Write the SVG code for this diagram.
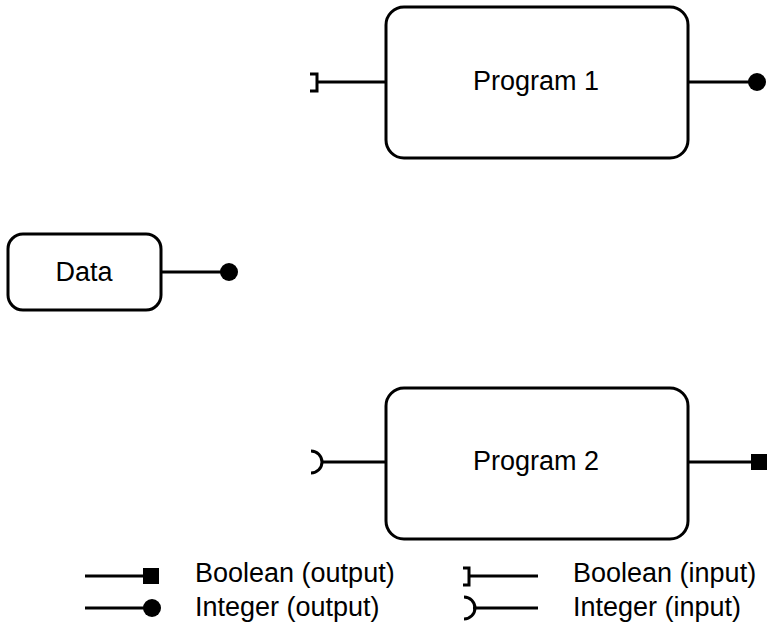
<svg xmlns="http://www.w3.org/2000/svg" width="768" height="626" viewBox="0 0 768 626">
  <defs>
    <style>
      .box { fill: #fff; stroke: #000; stroke-width: 3; }
      .wire { fill: none; stroke: #000; stroke-width: 3; }
      .port { fill: #000; stroke: none; }
      .label { font-family: "Liberation Sans", Arial, sans-serif; font-size: 27px; fill: #000; }
      .mid { text-anchor: middle; }
    </style>
  </defs>
  <rect width="768" height="626" fill="#fff"/>

  <g id="connectors">
    <!-- Program 1: boolean input, integer output -->
    <line class="wire" x1="317" y1="82" x2="386" y2="82"/>
    <path class="wire" d="M310 74 H317 V91 H310"/>
    <line class="wire" x1="688" y1="82" x2="752" y2="82"/>
    <circle class="port" cx="757" cy="82" r="9"/>
    <!-- Data: integer output -->
    <line class="wire" x1="161" y1="272" x2="224" y2="272"/>
    <circle class="port" cx="229" cy="272" r="9"/>
    <!-- Program 2: integer input, boolean output -->
    <line class="wire" x1="321" y1="462" x2="386" y2="462"/>
    <path class="wire" d="M311 451 A11 11 0 0 1 311 473"/>
    <line class="wire" x1="688" y1="462" x2="752" y2="462"/>
    <rect class="port" x="751" y="454" width="16" height="16"/>
  </g>

  <g id="program1">
    <rect class="box" x="386" y="7" width="302" height="151" rx="18"/>
    <text class="label mid" x="536" y="90">Program 1</text>
  </g>

  <g id="data">
    <rect class="box" x="8" y="234" width="153" height="76" rx="15"/>
    <text class="label mid" x="84" y="281">Data</text>
  </g>

  <g id="program2">
    <rect class="box" x="386" y="388" width="302" height="151" rx="18"/>
    <text class="label mid" x="536" y="470">Program 2</text>
  </g>

  <g id="legend">
    <line class="wire" x1="85" y1="576" x2="145" y2="576"/>
    <rect class="port" x="143" y="568" width="16" height="16"/>
    <text class="label" x="195" y="582">Boolean (output)</text>

    <line class="wire" x1="85" y1="608" x2="148" y2="608"/>
    <circle class="port" cx="152" cy="608" r="9"/>
    <text class="label" x="195" y="616">Integer (output)</text>

    <path class="wire" d="M463 568 H469 V585 H463"/>
    <line class="wire" x1="469" y1="576" x2="538" y2="576"/>
    <text class="label" x="573" y="582">Boolean (input)</text>

    <path class="wire" d="M464 597 A11 11 0 0 1 464 619"/>
    <line class="wire" x1="473" y1="608" x2="538" y2="608"/>
    <text class="label" x="573" y="616">Integer (input)</text>
  </g>
</svg>
